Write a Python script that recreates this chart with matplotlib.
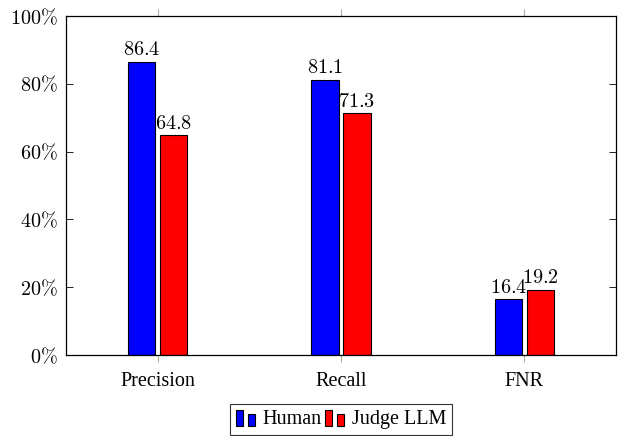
import matplotlib.pyplot as plt
import matplotlib.patches as mpatches
from matplotlib.legend_handler import HandlerBase
import numpy as np

# data
categories = ["Precision", "Recall", "FNR"]
human = [86.4, 81.1, 16.4]
judge = [64.8, 71.3, 19.2]
yticks = [0, 20, 40, 60, 80, 100]

plt.rcParams["mathtext.fontset"] = "cm"
plt.rcParams["font.family"] = ["Liberation Serif", "DejaVu Serif"]


class BarLegendHandler(HandlerBase):
    # two small bars, like the pgfplots ybar legend
    def create_artists(self, legend, orig_handle, xdescent, ydescent,
                       width, height, fontsize, trans):
        fc = orig_handle.get_facecolor()
        w = width * 0.3
        bars = []
        for x0, h in [(0, height * 1.15), (width * 0.5, height * 0.85)]:
            r = mpatches.Rectangle((x0 - xdescent, -ydescent - 0.15 * height), w, h,
                                   facecolor=fc, edgecolor="black", lw=0.8,
                                   transform=trans)
            bars.append(r)
        return bars


fig = plt.figure(figsize=(6.2, 4.36), dpi=100)
ax = fig.add_axes([66 / 620, 1 - 355 / 436, (616 - 66) / 620, (355 - 16) / 436])

x = np.arange(len(categories))
bw = 0.15
off = 0.087
b1 = ax.bar(x - off, human, bw, color="blue", edgecolor="black", lw=0.8, label="Human")
b2 = ax.bar(x + off, judge, bw, color="red", edgecolor="black", lw=0.8, label="Judge LLM")

for bars, vals in [(b1, human), (b2, judge)]:
    for r, v in zip(bars, vals):
        ax.text(r.get_x() + r.get_width() / 2, v + 0.5, f"${v:.1f}$",
                ha="center", va="bottom", fontsize=14.5)

ax.set_xlim(-0.5, 2.5)
ax.set_ylim(0, 100)
ax.set_xticks(x)
ax.set_xticklabels(categories, fontsize=14.5)
ax.set_yticks(yticks)
ax.set_yticklabels([f"${t}\\%$" for t in yticks], fontsize=14.5)
ax.tick_params(axis="y", direction="in", left=True, right=True, length=5, width=0.6, pad=6)
ax.tick_params(axis="x", direction="out", top=True, bottom=True, length=5,
               width=0.8, color="#aaaaaa", pad=7)
for s in ax.spines.values():
    s.set_linewidth(0.9)

leg = ax.legend(handles=[b1.patches[0], b2.patches[0]], labels=["Human", "Judge LLM"],
                handler_map={mpatches.Rectangle: BarLegendHandler()},
                loc="center", bbox_to_anchor=(0.5, -0.19), ncol=2, fontsize=14.5,
                frameon=True, fancybox=False, edgecolor="black",
                handlelength=1.2, handletextpad=0.15, columnspacing=0.15,
                borderpad=0.3, borderaxespad=0)
leg.get_frame().set_linewidth(0.8)

plt.savefig("out.png", dpi=100)
